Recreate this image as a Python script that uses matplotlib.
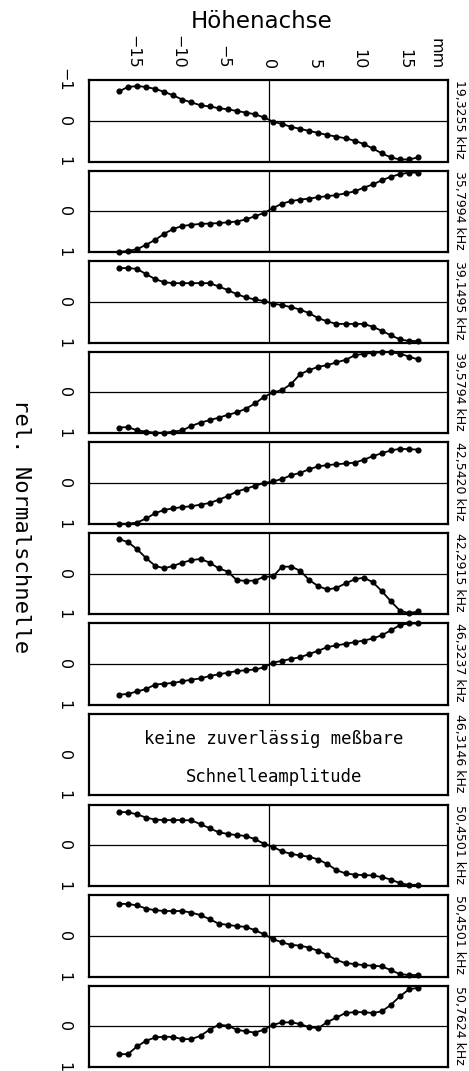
import matplotlib
matplotlib.use("Agg")
import matplotlib.pyplot as plt

# Messpositionen entlang der Höhenachse in mm
hoehe_mm = [-16.5, -15.5, -14.5, -13.5, -12.5, -11.5, -10.5, -9.5, -8.5, -7.5,
            -6.5, -5.5, -4.5, -3.5, -2.5, -1.5, -0.5, 0.5, 1.5, 2.5,
            3.5, 4.5, 5.5, 6.5, 7.5, 8.5, 9.5, 10.5, 11.5, 12.5,
            13.5, 14.5, 15.5, 16.5]

frequenzen = ["19,3255 kHz", "35,7994 kHz", "39,1495 kHz", "39,5794 kHz",
              "42,5420 kHz", "42,2915 kHz", "46,3237 kHz", "46,3146 kHz",
              "50,4501 kHz", "50,4501 kHz", "50,7624 kHz"]

# relative Normalschnelle je Frequenz
v_19_3255 = [-0.72, -0.83, -0.85, -0.83, -0.78, -0.71, -0.62, -0.52, -0.45, -0.38,
             -0.35, -0.31, -0.28, -0.24, -0.20, -0.16, -0.08, 0.02, 0.08, 0.15,
             0.20, 0.25, 0.30, 0.35, 0.39, 0.43, 0.49, 0.57, 0.68, 0.80,
             0.90, 0.95, 0.95, 0.90]
v_35_7994 = [1.00, 0.97, 0.93, 0.82, 0.70, 0.55, 0.43, 0.36, 0.33, 0.31,
             0.30, 0.29, 0.27, 0.25, 0.20, 0.12, 0.04, -0.08, -0.19, -0.25,
             -0.29, -0.31, -0.35, -0.37, -0.40, -0.44, -0.49, -0.58, -0.66, -0.76,
             -0.85, -0.91, -0.95, -0.95]
v_39_1495 = [-0.83, -0.83, -0.81, -0.68, -0.56, -0.48, -0.46, -0.46, -0.46, -0.46,
             -0.46, -0.38, -0.29, -0.19, -0.11, -0.06, -0.02, 0.04, 0.08, 0.13,
             0.19, 0.28, 0.40, 0.48, 0.54, 0.54, 0.54, 0.54, 0.61, 0.71,
             0.82, 0.92, 0.96, 0.96]
v_39_5794 = [0.86, 0.85, 0.93, 0.96, 0.99, 0.99, 0.96, 0.93, 0.82, 0.74,
             0.68, 0.62, 0.55, 0.49, 0.40, 0.27, 0.11, 0.00, -0.06, -0.21,
             -0.45, -0.55, -0.63, -0.67, -0.74, -0.80, -0.91, -0.95, -0.97, -0.99,
             -0.99, -0.95, -0.88, -0.81]
v_42_5420 = [1.00, 1.00, 0.97, 0.87, 0.74, 0.66, 0.62, 0.59, 0.57, 0.53,
             0.49, 0.41, 0.32, 0.21, 0.14, 0.07, 0.00, -0.04, -0.10, -0.19,
             -0.25, -0.34, -0.41, -0.44, -0.46, -0.48, -0.50, -0.57, -0.66, -0.73,
             -0.80, -0.84, -0.83, -0.82]
v_42_2915 = [-0.85, -0.77, -0.60, -0.38, -0.19, -0.13, -0.19, -0.27, -0.33, -0.36,
             -0.27, -0.13, -0.05, 0.16, 0.18, 0.17, 0.08, 0.07, -0.17, -0.17,
             -0.07, 0.16, 0.31, 0.39, 0.35, 0.24, 0.14, 0.10, 0.21, 0.43,
             0.68, 0.91, 0.97, 0.93]
v_46_3237 = [0.75, 0.73, 0.67, 0.61, 0.50, 0.48, 0.46, 0.42, 0.38, 0.35,
             0.29, 0.25, 0.21, 0.17, 0.15, 0.13, 0.08, -0.04, -0.08, -0.13,
             -0.17, -0.25, -0.33, -0.42, -0.46, -0.50, -0.54, -0.58, -0.63, -0.71,
             -0.83, -0.96, -1.00, -1.00]
v_50_4501a = [-0.82, -0.81, -0.76, -0.68, -0.63, -0.62, -0.62, -0.62, -0.61, -0.52,
              -0.42, -0.32, -0.28, -0.25, -0.23, -0.15, -0.04, 0.04, 0.15, 0.21,
              0.25, 0.28, 0.35, 0.46, 0.61, 0.69, 0.72, 0.73, 0.74, 0.78,
              0.84, 0.93, 0.97, 0.97]
v_50_4501b = [-0.79, -0.78, -0.75, -0.67, -0.63, -0.61, -0.61, -0.61, -0.57, -0.51,
              -0.41, -0.30, -0.27, -0.24, -0.22, -0.14, -0.04, 0.08, 0.16, 0.22,
              0.24, 0.29, 0.37, 0.47, 0.59, 0.67, 0.69, 0.72, 0.73, 0.75,
              0.84, 0.94, 0.96, 0.96]
v_50_7624 = [0.68, 0.68, 0.49, 0.35, 0.27, 0.25, 0.26, 0.31, 0.31, 0.23,
             0.08, -0.04, -0.02, 0.08, 0.12, 0.15, 0.08, -0.04, -0.10, -0.10,
             -0.06, 0.02, 0.04, -0.11, -0.22, -0.33, -0.35, -0.35, -0.33, -0.37,
             -0.53, -0.74, -0.91, -0.95]

# 46,3146 kHz: keine Messwerte
messreihen = [v_19_3255, v_35_7994, v_39_1495, v_39_5794, v_42_5420, v_42_2915,
              v_46_3237, None, v_50_4501a, v_50_4501b, v_50_7624]

x_ticks = [-15, -10, -5, 0, 5, 10, 15]
x_ticklabels = ["\u221215", "\u221210", "\u22125", "0", "5", "10", "15"]

W, H = 469, 1071
LEFT, RIGHT = 89, 448
TOP0, PITCH, PANEL_H = 80, 90.57, 81.5


def draw_panel(ax, werte, first):
    ax.set_xlim(-19.8, 19.8)
    ax.set_ylim(1.0, -1.0)
    for sp in ax.spines.values():
        sp.set_linewidth(1.6)
    ax.tick_params(length=0)
    ax.set_xticks([])

    if first:
        ax.xaxis.tick_top()
        ax.set_xticks(x_ticks + [18.5])
        ax.set_xticklabels(x_ticklabels + ["mm"], rotation=-90,
                           ha="center", va="bottom", fontsize=11.5)
        ax.tick_params(axis="x", pad=8)
        ax.set_yticks([-1, 0, 1])
        ax.set_yticklabels(["\u22121", "0", "1"])
    else:
        ax.set_yticks([0, 1])
        ax.set_yticklabels(["0", "1"])
    for lab in ax.get_yticklabels():
        lab.set_rotation(-90)
        lab.set_va("center")
        lab.set_ha("center")
        lab.set_fontsize(11.5)
    ax.tick_params(axis="y", pad=18)

    if werte is None:
        ax.text(0.6, -0.39, "keine zuverlässig meßbare", ha="center",
                va="center", family="DejaVu Sans Mono", fontsize=12.4)
        ax.text(0.6, 0.54, "Schnelleamplitude", ha="center",
                va="center", family="DejaVu Sans Mono", fontsize=12.4)
        return

    ax.axhline(0, color="black", lw=0.9)
    ax.axvline(0, color="black", lw=0.9)
    ax.plot(hoehe_mm, werte, color="black", lw=1.3, marker="o",
            markersize=3.4, clip_on=False)


def main():
    fig = plt.figure(figsize=(W / 100, H / 100), dpi=100)
    for i, (freq, werte) in enumerate(zip(frequenzen, messreihen)):
        top = TOP0 + PITCH * i
        ax = fig.add_axes([LEFT / W, 1 - (top + PANEL_H) / H,
                           (RIGHT - LEFT) / W, PANEL_H / H])
        draw_panel(ax, werte, i == 0)
        ax.text(1.013, 1.0, freq, transform=ax.transAxes, rotation=-90,
                ha="left", va="top", fontsize=9)

    fig.text(262 / W, 1 - 22 / H, "Höhenachse", ha="center", va="center",
             fontsize=16.5)
    fig.text(21 / W, 1 - 526 / H, "rel. Normalschnelle", rotation=-90,
             ha="center", va="center", family="DejaVu Sans Mono", fontsize=16)

    fig.savefig("out.png", dpi=100)


if __name__ == "__main__":
    main()
